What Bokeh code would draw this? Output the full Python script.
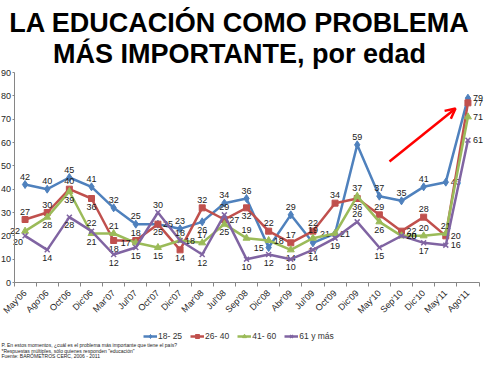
import math
from bokeh.plotting import figure
from bokeh.models import (ColumnDataSource, Range1d, FixedTicker, Label, Legend,
                          LegendItem, Arrow, OpenHead)
from bokeh.core.properties import value
from bokeh.embed import file_html
from bokeh.resources import INLINE

# ---------------- data ----------------
periods = ["May'06", "Ago'06", "Oct'06", "Dic'06", "Mar'07", "Jul'07", "Oct'07",
           "Dic'07", "Mar'08", "Jul'08", "Sep'08", "Dic'08", "Abr'09", "Jul'09",
           "Oct'09", "Dic'09", "May'10", "Sep'10", "Dic'10", "May'11", "Ago'11"]
edad_18_25 = [42, 40, 45, 41, 32, 25, 25, 23, 26, 34, 36, 15, 29, 17, 21, 59, 37, 35, 41, 43, 79]
edad_26_40 = [27, 30, 40, 36, 18, 18, 25, 14, 32, 27, 32, 22, 17, 22, 34, 36, 29, 22, 28, 20, 77]
edad_41_60 = [22, 28, 39, 21, 21, 17, 15, 18, 17, 25, 19, 18, 14, 19, 21, 37, 26, 20, 20, 21, 71]
edad_61_mas = [20, 14, 28, 22, 12, 15, 30, 18, 12, 29, 10, 12, 10, 14, 19, 26, 15, 20, 17, 16, 61]
series_names = ["18- 25", "26- 40", "41- 60", "61 y más"]
y_ticks = [0, 10, 20, 30, 40, 50, 60, 70, 80, 90]

# label placement styles (u=above, d=below, l=left, r=right, dl=below-left)
pos_18_25 = ['u','u','u','u','u','u','r','u','d','u','u','l','u','d','l','u','u','u','u','r','r']
pos_26_40 = ['u','u','u','d','d','u','d','d','u','r','d','u','u','u','u','d','u','r','u','r','r']
pos_41_60 = ['l','d','d','d','u','l','d','r','u','d','u','r','d','u','r','u','d','r','u','u','r']
pos_61_mas = ['dl','d','d','u','d','d','u','u','d','u','d','d','d','d','d','u','d','r','d','r','r']

colors = ["#4F81BD", "#C0504D", "#9BBB59", "#8064A2"]
markers = ["diamond", "square", "triangle", "x"]
msizes = [8, 6, 7, 7]
FONT = "Liberation Sans"

OFFSETS = {
    'u': (0, -5, 'center', 'bottom'),
    'd': (0, 5, 'center', 'top'),
    'l': (-5, 0, 'right', 'middle'),
    'r': (5, 0, 'left', 'middle'),
    'dl': (-2, 3, 'right', 'top'),
}

# ---------------- figure ----------------
# the frame covers the whole canvas; axes are pinned inside it at x=-0.5 and y=0
# scale: 22.143 px per category, 2.3333 px per percentage point
p = figure(frame_width=484, frame_height=359, output_backend="svg", toolbar_location=None,
           x_range=Range1d(-1.1097, 20.748), y_range=Range1d(-33.0, 120.86),
           min_border_left=0, min_border_right=0, min_border_top=0,
           min_border_bottom=0, tools="")
p.outline_line_color = None
p.grid.visible = False
p.background_fill_color = "white"
p.border_fill_color = "white"

idx = list(range(len(periods)))

# axes
p.yaxis.fixed_location = -0.5
p.yaxis.ticker = FixedTicker(ticks=y_ticks)
p.yaxis.bounds = (0, 90)
p.yaxis.major_label_text_font = FONT
p.yaxis.major_label_text_font_size = "9px"
p.yaxis.major_label_text_color = "#262626"
p.yaxis.major_tick_out = 2
p.yaxis.major_tick_in = 0
p.yaxis.major_label_standoff = 1
p.yaxis.minor_tick_line_color = None
p.yaxis.axis_line_color = "#868686"
p.yaxis.major_tick_line_color = "#868686"

p.xaxis.fixed_location = 0
p.xaxis.ticker = FixedTicker(ticks=idx, minor_ticks=[i - 0.5 for i in range(len(periods) + 1)])
p.xaxis.bounds = (-0.5, len(periods) - 0.5)
p.xaxis.major_label_overrides = {i: lab for i, lab in enumerate(periods)}
p.xaxis.major_label_orientation = math.pi / 4
p.xaxis.major_label_text_font = FONT
p.xaxis.major_label_text_font_size = "9px"
p.xaxis.major_label_text_color = "#262626"
p.xaxis.major_tick_out = 0
p.xaxis.major_tick_in = 0
p.xaxis.minor_tick_out = 4
p.xaxis.minor_tick_in = 0
p.xaxis.minor_tick_line_color = "#868686"
p.xaxis.major_label_standoff = 5
p.xaxis.axis_line_color = "#868686"

# series
all_series = [edad_18_25, edad_26_40, edad_41_60, edad_61_mas]
all_pos = [pos_18_25, pos_26_40, pos_41_60, pos_61_mas]
items = []
for name, vals, pos, col, mk, ms in zip(series_names, all_series, all_pos, colors, markers, msizes):
    xo = [OFFSETS[s][0] for s in pos]
    yo = [OFFSETS[s][1] for s in pos]
    al = [OFFSETS[s][2] for s in pos]
    bl = [OFFSETS[s][3] for s in pos]
    src = ColumnDataSource(dict(x=idx, y=vals, t=[str(v) for v in vals],
                                xo=xo, yo=yo, al=al, bl=bl))
    lr = p.line('x', 'y', source=src, line_color=col, line_width=2.5)
    sr = p.scatter('x', 'y', source=src, marker=mk, size=ms, fill_color=col,
                   line_color=col, line_width=1.5 if mk == 'x' else 1)
    items.append(LegendItem(label=name, renderers=[lr, sr]))
    p.text('x', 'y', text='t', source=src, x_offset='xo', y_offset='yo',
           text_align='al', text_baseline='bl', text_font=value(FONT),
           text_font_size="9px", text_color="#1a1a1a")

# red arrow
p.add_layout(Arrow(end=OpenHead(size=10, line_color="red", line_width=2.5),
                   x_start=16.458, y_start=51.86, x_end=19.439, y_end=74.57,
                   line_color="red", line_width=2.5))

# title
p.add_layout(Label(x=9.684, y=111.4, text="LA EDUCACIÓN COMO PROBLEMA",
                   text_font=FONT, text_font_size="27px", text_font_style="bold",
                   text_align="center", text_baseline="alphabetic", text_color="black"))
p.add_layout(Label(x=9.684, y=97.8, text="MÁS IMPORTANTE, por edad",
                   text_font=FONT, text_font_size="27px", text_font_style="bold",
                   text_align="center", text_baseline="alphabetic", text_color="black"))

# legend below the axis
legend = Legend(items=items, orientation="horizontal", location=(143, 18),
                label_text_font=FONT, label_text_font_size="8.5px",
                label_text_color="#333333", glyph_width=14, glyph_height=10,
                label_standoff=1, spacing=8, padding=0, margin=0,
                border_line_color=None, background_fill_alpha=0,
                label_height=10)
p.add_layout(legend, "center")

# footnotes
notes = ["P. En estos momentos, ¿cuál es el problema más importante que tiene el país?",
         "*Respuestas múltiples, sólo quienes responden \"educación\"",
         "Fuente: BARÓMETROS CERC, 2006 - 2011"]
for k, n in enumerate(notes):
    p.add_layout(Label(x=-1.065, y=-26.6 - 2.55 * k, text=n, text_font=FONT,
                       text_font_size="5px", text_align="left", text_baseline="middle",
                       text_color="#222222"))

open("out.html", "w").write(file_html(p, INLINE))
